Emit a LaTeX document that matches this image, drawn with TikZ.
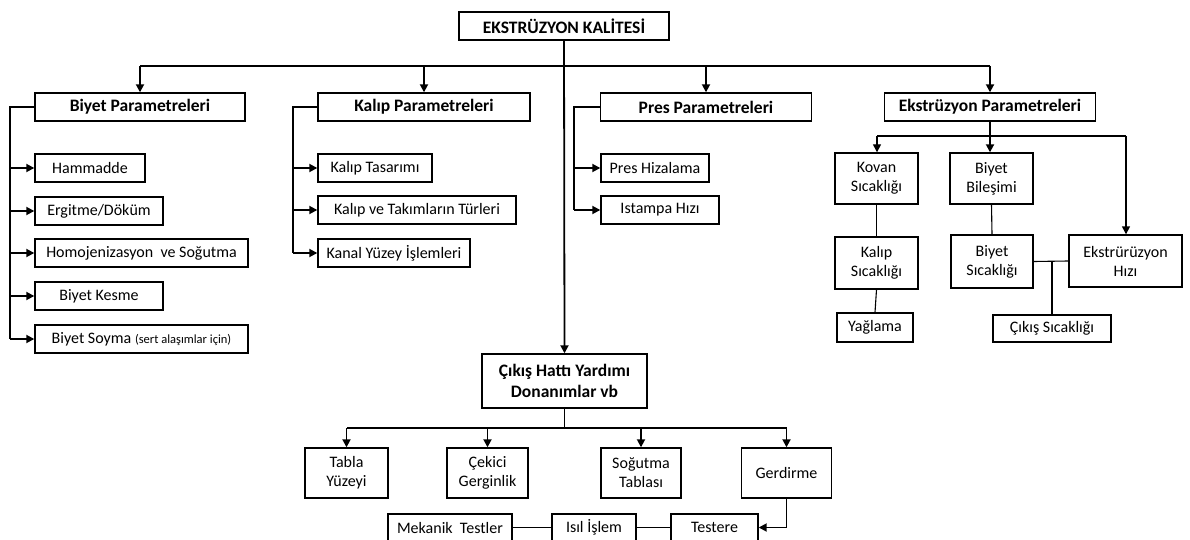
\documentclass[tikz,border=0pt]{standalone}
\usepackage{fontspec}
\setmainfont{Carlito}
\usetikzlibrary{arrows.meta}
\newcommand\fsn{\fontsize{16}{19}\selectfont}
\newcommand\fsb{\fontsize{17.5}{21}\selectfont\bfseries}
\newcommand\fss{\fontsize{12.5}{14}\selectfont}
\tikzset{
  bx/.style={draw, line width=1.4pt, inner sep=0pt, align=center, font=\fsn, minimum height=28pt},
  hd/.style={bx, font=\fsb},
  conn/.style={line width=1.8pt},
  mid/.style={line width=1.4pt},
  thn/.style={line width=1.1pt},
  arr/.style={-{Triangle[length=8pt,width=8pt]}},
}
\begin{document}
\begin{tikzpicture}[x=1pt,y=-1pt]
\useasboundingbox (0,0) rectangle (1190,540);
\fill[white] (0,0) rectangle (1190,540);

% top level
\node[hd, minimum width=210pt] (title) at (564,26) {EKSTRÜZYON KALİTESİ};
\node[hd, minimum width=210pt] (biyet) at (140,107) {Biyet Parametreleri};
\node[hd, minimum width=212pt] (kalip) at (424,107) {Kalıp Parametreleri};
\node[hd, minimum width=211pt] (pres) at (706,107) {Pres Parametreleri};
\node[hd, minimum width=211pt] (ekst) at (990,107) {Ekstrüzyon Parametreleri};

% Biyet children
\node[bx, minimum width=110pt] (ham) at (90,168) {Hammadde};
\node[bx, minimum width=128pt] (erg) at (99,211) {Ergitme/Döküm};
\node[bx, minimum width=213pt] (homo) at (141.5,253) {Homojenizasyon\ \ ve Soğutma};
\node[bx, minimum width=128pt] (kes) at (99,296) {Biyet Kesme};
\node[bx, minimum width=213pt] (soy) at (141.5,339) {Biyet Soyma {\fss(sert alaşımlar için)}};

% Kalip children
\node[bx, minimum width=114pt] (tas) at (375,168) {Kalıp Tasarımı};
\node[bx, minimum width=198pt] (tur) at (417,210) {Kalıp ve Takımların Türleri};
\node[bx, minimum width=152pt] (kan) at (394,253) {Kanal Yüzey İşlemleri};

% Pres children
\node[bx, minimum width=108pt] (phiz) at (655,168) {Pres Hizalama};
\node[bx, minimum width=118pt] (ist) at (660,210) {Istampa Hızı};

% Ekstruzyon subtree
\node[bx, minimum width=83pt, minimum height=51pt] (kov) at (876.5,178.5) {Kovan\\Sıcaklığı};
\node[bx, minimum width=83pt, minimum height=51pt] (bil) at (991.5,178.5) {Biyet\\Bileşimi};
\node[bx, minimum width=83pt, minimum height=52pt] (kals) at (876.5,263) {Kalıp\\Sıcaklığı};
\node[bx, minimum width=76pt, minimum height=29pt] (yag) at (875,327.5) {Yağlama};
\node[bx, minimum width=82pt, minimum height=53pt] (bsic) at (992,261.5) {Biyet\\Sıcaklığı};
\node[bx, minimum width=113pt, minimum height=52pt] (ehiz) at (1125.5,261) {Ekstrürüzyon\\Hızı};
\node[bx, minimum width=118pt, minimum height=27pt] (csic) at (1052,328.5) {Çıkış Sıcaklığı};

% Cikis hatti subtree
\node[hd, minimum width=165pt, minimum height=54pt] (cikis) at (564.5,381) {Çıkış Hattı Yardımı\\Donanımlar vb};
\node[bx, minimum width=83pt, minimum height=50pt] (tab) at (346.5,473) {Tabla\\Yüzeyi};
\node[bx, minimum width=81pt, minimum height=50pt] (cek) at (487.5,473) {Çekici\\Gerginlik};
\node[bx, minimum width=80pt, minimum height=50pt] (sog) at (641,473) {Soğutma\\Tablası};
\node[bx, minimum width=90pt, minimum height=50pt] (ger) at (786.5,473) {Gerdirme};
\node[bx, minimum width=124pt, minimum height=27pt] (mek) at (450,527.5) {Mekanik\ \ Testler};
\node[bx, minimum width=84pt, minimum height=27pt] (isil) at (594,527.5) {Isıl İşlem};
\node[bx, minimum width=87pt, minimum height=27pt] (tes) at (714.5,527.5) {Testere};

% coordinates
\coordinate (b1) at (140,66);
\coordinate (b4) at (990,66);
\coordinate (lb) at (10,107);
\coordinate (lk) at (293,107);
\coordinate (lp) at (574,107);
\coordinate (e1) at (877,136);
\coordinate (e3) at (1126,136);
\coordinate (jn) at (1052,261.5);
\coordinate (c1) at (347,428);
\coordinate (c4) at (787,428);

% main connectors
\draw[conn,arr] (title.south) -- (cikis.north);
\draw[conn] (b1) -- (b4);
\foreach \n in {biyet,kalip,pres,ekst}
  \draw[conn,arr] (\n.north |- b1) -- (\n.north);

% brackets
\draw[conn] (biyet.west) -- (lb) -- (lb |- soy.west);
\foreach \n in {ham,erg,homo,kes,soy}
  \draw[conn,arr] (lb |- \n.west) -- (\n.west);
\draw[conn] (kalip.west) -- (lk) -- (lk |- kan.west);
\foreach \n in {tas,tur,kan}
  \draw[conn,arr] (lk |- \n.west) -- (\n.west);
\draw[conn] (pres.west) -- (lp) -- (lp |- ist.west);
\foreach \n in {phiz,ist}
  \draw[conn,arr] (lp |- \n.west) -- (\n.west);

% Ekstruzyon subtree
\draw[conn,arr] (ekst.south) -- (ekst.south |- bil.north);
\draw[mid] (e1) -- (e3);
\draw[mid,arr] (e1) -- (e1 |- kov.north);
\draw[mid,arr] (e3) -- (e3 |- ehiz.north);
\draw[thn] (kov.south) -- (kals.north);
\draw[thn] (kals.south) -- (yag.north);
\draw[thn] (bil.south) -- (bsic.north);
\draw[thn] (bsic.east) -- (ehiz.west);
\draw[thn] (jn) -- (csic.north);

% Cikis subtree
\draw[conn] (cikis.south) -- (cikis.south |- c1);
\draw[conn] (c1) -- (c4);
\foreach \n in {tab,cek,sog,ger}
  \draw[conn,arr] (\n.north |- c1) -- (\n.north);
\draw[conn,arr] (ger.south) |- (tes.east);
\draw[mid] (mek.east) -- (isil.west);
\draw[mid] (isil.east) -- (tes.west);
\end{tikzpicture}
\end{document}
